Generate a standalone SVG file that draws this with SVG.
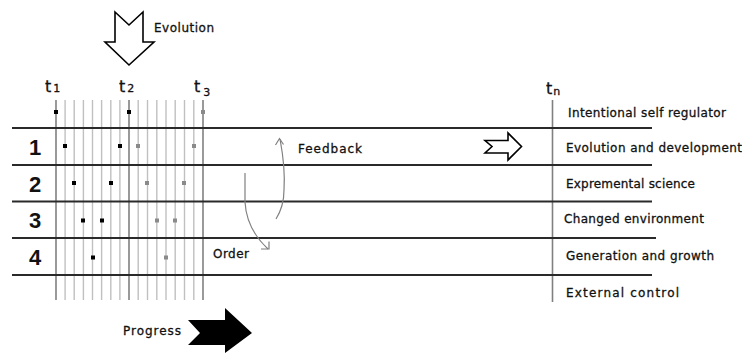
<svg xmlns="http://www.w3.org/2000/svg" width="742" height="353" viewBox="0 0 742 353">
<style>
.lbl{font-family:"DejaVu Sans",sans-serif;font-size:12px;fill:#111;stroke:#111;stroke-width:0.3}
.num{font-family:"Liberation Sans",Arial,sans-serif;font-size:22px;font-weight:bold;fill:#111;text-anchor:middle}
.tt{font-family:"DejaVu Sans",sans-serif;font-size:16px;fill:#111;stroke:#111;stroke-width:0.3}
.ts{font-family:"DejaVu Sans",sans-serif;font-size:11px;fill:#111}
.hl{stroke:#2a2a2a;stroke-width:1.8;fill:none}
.vd{stroke:#808080;stroke-width:1.6}
.vl{stroke:#c0c0c0;stroke-width:1.4}
.bd{fill:#000}
.gd{fill:#8a8a8a}
.curve{stroke:#808080;stroke-width:1.2;fill:none}
.hollow{fill:#fff;stroke:#000;stroke-width:1.6;stroke-linejoin:miter}
</style>
<rect width="742" height="353" fill="#fff"/>

<g id="grid">
<g id="verticals-light">
<line class="vl" x1="65.1" y1="100" x2="65.1" y2="300"/>
<line class="vl" x1="74.2" y1="100" x2="74.2" y2="300"/>
<line class="vl" x1="83.4" y1="100" x2="83.4" y2="300"/>
<line class="vl" x1="92.5" y1="100" x2="92.5" y2="300"/>
<line class="vl" x1="101.6" y1="100" x2="101.6" y2="300"/>
<line class="vl" x1="110.8" y1="100" x2="110.8" y2="300"/>
<line class="vl" x1="119.9" y1="100" x2="119.9" y2="300"/>
<line class="vl" x1="138.2" y1="100" x2="138.2" y2="300"/>
<line class="vl" x1="147.5" y1="100" x2="147.5" y2="300"/>
<line class="vl" x1="156.8" y1="100" x2="156.8" y2="300"/>
<line class="vl" x1="166" y1="100" x2="166" y2="300"/>
<line class="vl" x1="175.2" y1="100" x2="175.2" y2="300"/>
<line class="vl" x1="184.5" y1="100" x2="184.5" y2="300"/>
<line class="vl" x1="193.8" y1="100" x2="193.8" y2="300"/>
</g>
<g id="verticals-dark">
<line class="vd" x1="56" y1="100" x2="56" y2="300"/>
<line class="vd" x1="129" y1="100" x2="129" y2="300"/>
<line class="vd" x1="203" y1="100" x2="203" y2="300"/>
<line class="vd" x1="552.5" y1="100" x2="552.5" y2="302"/>
</g>
<g id="horizontals">
<line class="hl" x1="12" y1="128" x2="652" y2="128"/>
<line class="hl" x1="12" y1="165" x2="652" y2="165"/>
<line class="hl" x1="12" y1="201.5" x2="652" y2="201.5"/>
<line class="hl" x1="12" y1="238" x2="656" y2="238"/>
<line class="hl" x1="12" y1="275" x2="652" y2="275"/>
</g>
</g>

<g id="dots">
<rect class="bd" x="54" y="110" width="4" height="4"/>
<rect class="bd" x="127" y="110" width="4" height="4"/>
<rect class="gd" x="201" y="110" width="4" height="4"/>
<rect class="bd" x="63" y="144" width="4" height="4"/>
<rect class="bd" x="118" y="144" width="4" height="4"/>
<rect class="gd" x="136" y="144" width="4" height="4"/>
<rect class="gd" x="192" y="144" width="4" height="4"/>
<rect class="bd" x="72" y="181" width="4" height="4"/>
<rect class="bd" x="109" y="181" width="4" height="4"/>
<rect class="gd" x="145" y="181" width="4" height="4"/>
<rect class="gd" x="182" y="181" width="4" height="4"/>
<rect class="bd" x="81" y="218.5" width="4" height="4"/>
<rect class="bd" x="100" y="218.5" width="4" height="4"/>
<rect class="gd" x="155" y="218.5" width="4" height="4"/>
<rect class="gd" x="173" y="218.5" width="4" height="4"/>
<rect class="bd" x="91" y="255.5" width="4" height="4"/>
<rect class="gd" x="164" y="255.5" width="4" height="4"/>
</g>

<g id="row-numbers">
<text class="num" x="35" y="154.5">1</text>
<text class="num" x="35" y="191.5">2</text>
<text class="num" x="35" y="228">3</text>
<text class="num" x="35" y="265">4</text>
</g>

<g id="time-labels">
<text class="tt" x="45" y="91.5">t<tspan class="ts" dx="2">1</tspan></text>
<text class="tt" x="119" y="91.5">t<tspan class="ts" dx="2">2</tspan></text>
<text class="tt" x="194" y="91.5">t<tspan class="ts" dx="3" dy="4">3</tspan></text>
<text class="tt" x="546" y="94">t<tspan class="ts" dx="1" dy="1">n</tspan></text>
</g>

<g id="row-labels">
<text class="lbl" x="568" y="116.5" textLength="158" lengthAdjust="spacing">Intentional self regulator</text>
<text class="lbl" x="566" y="151.5" textLength="176" lengthAdjust="spacing">Evolution and development</text>
<text class="lbl" x="566" y="188" textLength="129" lengthAdjust="spacing">Expremental science</text>
<text class="lbl" x="564" y="222.5" textLength="140" lengthAdjust="spacing">Changed environment</text>
<text class="lbl" x="566" y="260" textLength="148" lengthAdjust="spacing">Generation and growth</text>
<text class="lbl" x="566" y="296.5" textLength="113" lengthAdjust="spacing">External control</text>
</g>

<g id="evolution">
<polygon class="hollow" points="115,12 129,25 143,12 143,42 154,42 129,65 105,42 115,42"/>
<text class="lbl" x="154" y="32" textLength="60" lengthAdjust="spacing">Evolution</text>
</g>

<g id="progress">
<polygon fill="#000" points="188,320 225,320 225,308 252,333 225,353 225,345 188,345 200,333"/>
<text class="lbl" x="123" y="335" textLength="58" lengthAdjust="spacing">Progress</text>
</g>

<g id="dev-arrow">
<polygon class="hollow" points="485,140.5 508,140.5 508,133 521.5,146.5 508,160 508,153 485,153 492,146.5"/>
</g>

<g id="connectors">
<g id="feedback">
<path class="curve" d="M276,219 C281,211 284,200 284,190 C285,175 284,160 280,139"/>
<polyline class="curve" points="275.5,145 279.5,138.5 283.5,144.5"/>
<text class="lbl" x="298" y="153" textLength="64" lengthAdjust="spacing">Feedback</text>
</g>
<g id="order">
<path class="curve" d="M245,173 L245,202 C246,220 254,236 268,249"/>
<polyline class="curve" points="261,249 269,249 269,241.5"/>
<text class="lbl" x="213" y="258" textLength="36" lengthAdjust="spacing">Order</text>
</g>
</g>
</svg>
